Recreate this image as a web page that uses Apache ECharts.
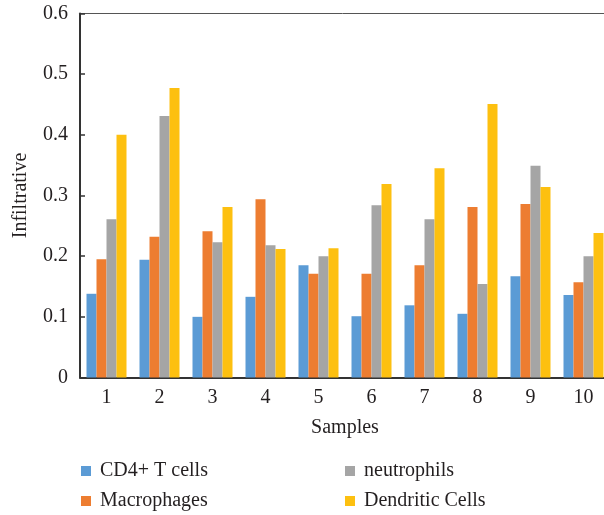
<!DOCTYPE html>
<html>
<head>
<meta charset="utf-8">
<script src="https://cdn.jsdelivr.net/npm/echarts@6/dist/echarts.min.js"></script>
<style>
  html, body { margin: 0; padding: 0; background: #fff; }
  #chart { width: 604px; height: 515px; }
</style>
</head>
<body>
<div id="chart"></div>
<script>
const samples = ['1', '2', '3', '4', '5', '6', '7', '8', '9', '10']
const cd4T = [0.138, 0.194, 0.100, 0.133, 0.185, 0.101, 0.119, 0.105, 0.167, 0.136]
const macrophages = [0.195, 0.232, 0.241, 0.294, 0.171, 0.171, 0.185, 0.281, 0.286, 0.157]
const neutrophils = [0.261, 0.431, 0.223, 0.218, 0.200, 0.284, 0.261, 0.154, 0.349, 0.200]
const dendritic = [0.400, 0.477, 0.281, 0.212, 0.213, 0.319, 0.345, 0.451, 0.314, 0.238]

const font = 'Liberation Serif'
const ink = '#231f20'
const fs = 20

const chart = echarts.init(document.getElementById('chart'))

const bar = (name, data, color) => ({
  name, type: 'bar', data, barWidth: 10, barGap: '0%',
  itemStyle: { color }, emphasis: { disabled: true },
})

// vertical legends, one per column; padding 0 so they don't wrap
const legendBase = {
  orient: 'vertical', top: 461, padding: 0,
  itemWidth: 10, itemHeight: 10, itemGap: 10,
  icon: 'rect',
  textStyle: { fontFamily: font, fontSize: fs, color: ink, lineHeight: 20, padding: [0, 0, 0, 4] },
}

chart.setOption({
  animation: false,
  textStyle: { fontFamily: font },
  grid: {
    left: 80, top: 13.5, width: 530, height: 364,
    outerBoundsMode: 'none',
    show: true, borderColor: '#555', borderWidth: 1,
  },
  legend: [
    { ...legendBase, left: 81, data: ['CD4+ T cells', 'Macrophages'] },
    { ...legendBase, left: 345, data: ['neutrophils', 'Dendritic Cells'] },
  ],
  xAxis: {
    type: 'category', data: samples,
    name: 'Samples', nameLocation: 'middle', nameGap: 40,
    nameTextStyle: { fontFamily: font, fontSize: fs, color: ink },
    axisLine: { lineStyle: { color: '#333', width: 2 } },
    axisTick: { inside: true, length: 5, lineStyle: { color: '#333', width: 1.5 } },
    axisLabel: { fontFamily: font, fontSize: fs, color: ink, margin: 10 },
  },
  yAxis: {
    type: 'value', min: 0, max: 0.6, interval: 0.1,
    name: 'Infiltrative', nameLocation: 'middle', nameGap: 49,
    nameTextStyle: { fontFamily: font, fontSize: fs, color: ink },
    axisLine: { show: true, lineStyle: { color: '#333', width: 2 } },
    axisTick: { show: true, inside: true, length: 5, lineStyle: { color: '#333', width: 1.5 } },
    axisLabel: { fontFamily: font, fontSize: fs, color: ink, margin: 12 },
    splitLine: { show: false },
  },
  series: [
    bar('CD4+ T cells', cd4T, '#5b9bd5'),
    bar('Macrophages', macrophages, '#ed7d31'),
    bar('neutrophils', neutrophils, '#a5a5a5'),
    bar('Dendritic Cells', dendritic, '#fdc010'),
  ],
})
</script>
</body>
</html>
